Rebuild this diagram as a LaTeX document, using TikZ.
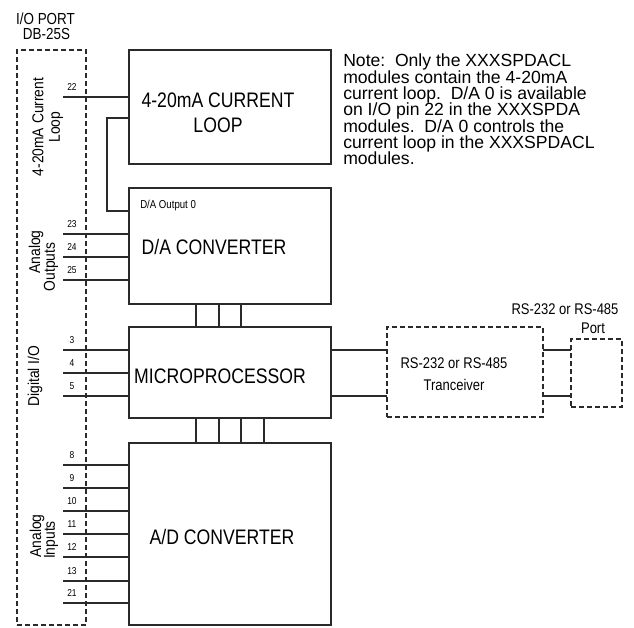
\documentclass[tikz,border=0pt]{standalone}
\usepackage{fontspec}
\setmainfont{Liberation Sans}
\newfontfamily\narrowfont[FakeStretch=0.84]{Liberation Sans}
\newfontfamily\sidefont[FakeStretch=0.88]{Liberation Sans}
\usetikzlibrary{fit}
\definecolor{linec}{HTML}{2A2A2A}
\begin{document}
\frenchspacing
\begin{tikzpicture}[x=0.75pt,y=-0.75pt,
  box/.style={draw=linec, line width=1.35pt, inner sep=0pt, outer sep=0pt},
  dbox/.style={draw=linec, line width=0.85pt, dash pattern=on 3.4pt off 2.6pt, inner sep=0pt, outer sep=0pt},
  wire/.style={draw=linec, line width=1pt},
  pinlbl/.style={font=\narrowfont\fontsize{7.5}{9}\selectfont, inner sep=0pt},
  big/.style={font=\narrowfont\fontsize{15.75}{18.75}\selectfont, inner sep=0pt, align=center},
  mid/.style={font=\narrowfont\fontsize{11.6}{16.5}\selectfont, inner sep=0pt, align=center},
  small/.style={font=\narrowfont\fontsize{8.6}{10}\selectfont, inner sep=0pt},
  head/.style={font=\narrowfont\fontsize{12}{14}\selectfont, inner sep=0pt},
  side/.style={font=\sidefont\fontsize{11.8}{14}\selectfont, inner sep=0pt, rotate=90},
  notes/.style={font=\fontsize{13.2}{12.2}\selectfont, inner sep=0pt, anchor=base west},
]
\useasboundingbox (0,0) rectangle (634,627);

% blocks
\node[dbox, fit={(17,50)(86,625)}] (IO) {};
\node[box, fit={(129,50)(331,164)}] (CL) {};
\node[box, fit={(129,188)(331,304)}] (DA) {};
\node[box, fit={(129,327)(331,418)}] (MP) {};
\node[box, fit={(129,443)(331,625)}] (AD) {};
\node[dbox, fit={(387,327)(543,417)}] (TR) {};
\node[dbox, fit={(571,339)(622,407)}] (PT) {};

% header of the port
\node[head] (ioport) at (45.5,19) {I/O PORT};
\node[head] (db25) at (46.5,34) {DB-25S};

% block texts
\node[big] (tCL) at (218,112.5) {4-20mA CURRENT\\LOOP};
\node[small, anchor=west] (tDAo) at (140,206) {D/A Output 0};
\node[big] (tDA) at (214,247) {D/A CONVERTER};
\node[big] (tMP) at (220,376) {MICROPROCESSOR};
\node[big] (tAD) at (222,537) {A/D CONVERTER};
\node[mid] (tTR) at (454,374) {RS-232 or RS-485\\Tranceiver};
\node[mid] (tPT1) at (565,309) {RS-232 or RS-485};
\node[mid] (tPT2) at (593,328) {Port};

% side labels
\node[side] (sCL1) at (38,127) {4-20mA Current};
\node[side] (sCL2) at (56,127) {Loop};
\node[side] (sAO1) at (36,252) {Analog};
\node[side] (sAO2) at (51,267) {Outputs};
\node[side] (sDIO) at (35,376) {Digital I/O};
\node[side] (sAI1) at (37,536) {Analog};
\node[side] (sAI2) at (51,540) {Inputs};

% pins
\foreach \n/\y/\b in {22/97/CL, 23/234/DA, 24/257/DA, 25/280/DA, 3/350/MP, 4/373/MP, 5/396/MP, 8/465/AD, 9/488/AD, 10/511/AD, 11/534/AD, 12/557/AD, 13/581/AD, 21/603/AD} {
  \coordinate (pin\n) at (63,\y);
  \draw[wire] (pin\n) -- (pin\n -| \b.west);
  \node[pinlbl] (lbl\n) at (72,{\y-10}) {\n};
}

% current loop to D/A output
\draw[wire] ([yshift=-51pt]CL.north west) -- ++(-22,0) |- ([yshift=-17.25pt]DA.north west);

% buses
\foreach \dx in {50.25,67.5,84}
  \draw[wire] ([xshift=\dx pt]DA.south west) -- ([xshift=\dx pt]MP.north west);
\foreach \dx in {50.25,67.5,84,101.25}
  \draw[wire] ([xshift=\dx pt]MP.south west) -- ([xshift=\dx pt]AD.north west);

% serial lines
\foreach \dy in {17.25,51.75} {
  \draw[wire] ([yshift=-\dy pt]MP.north east) -- ([yshift=-\dy pt]TR.north west);
  \draw[wire] ([yshift=-\dy pt]TR.north east) -- ([yshift=-\dy pt]PT.north west |- TR.north east);
}

% note
\node[notes] (n1) at (343,67) {Note:\hspace{0.55em}Only the XXXSPDACL};
\node[notes] (n2) at (343,83.3) {modules contain the 4-20mA};
\node[notes] (n3) at (343,99.6) {current loop.\hspace{0.55em}D/A 0 is available};
\node[notes] (n4) at (343,115.9) {on I/O pin 22 in the XXXSPDA};
\node[notes] (n5) at (343,132.2) {modules.\hspace{0.55em}D/A 0 controls the};
\node[notes] (n6) at (343,148.5) {current loop in the XXXSPDACL};
\node[notes] (n7) at (343,164.8) {modules.};
\end{tikzpicture}
\end{document}
